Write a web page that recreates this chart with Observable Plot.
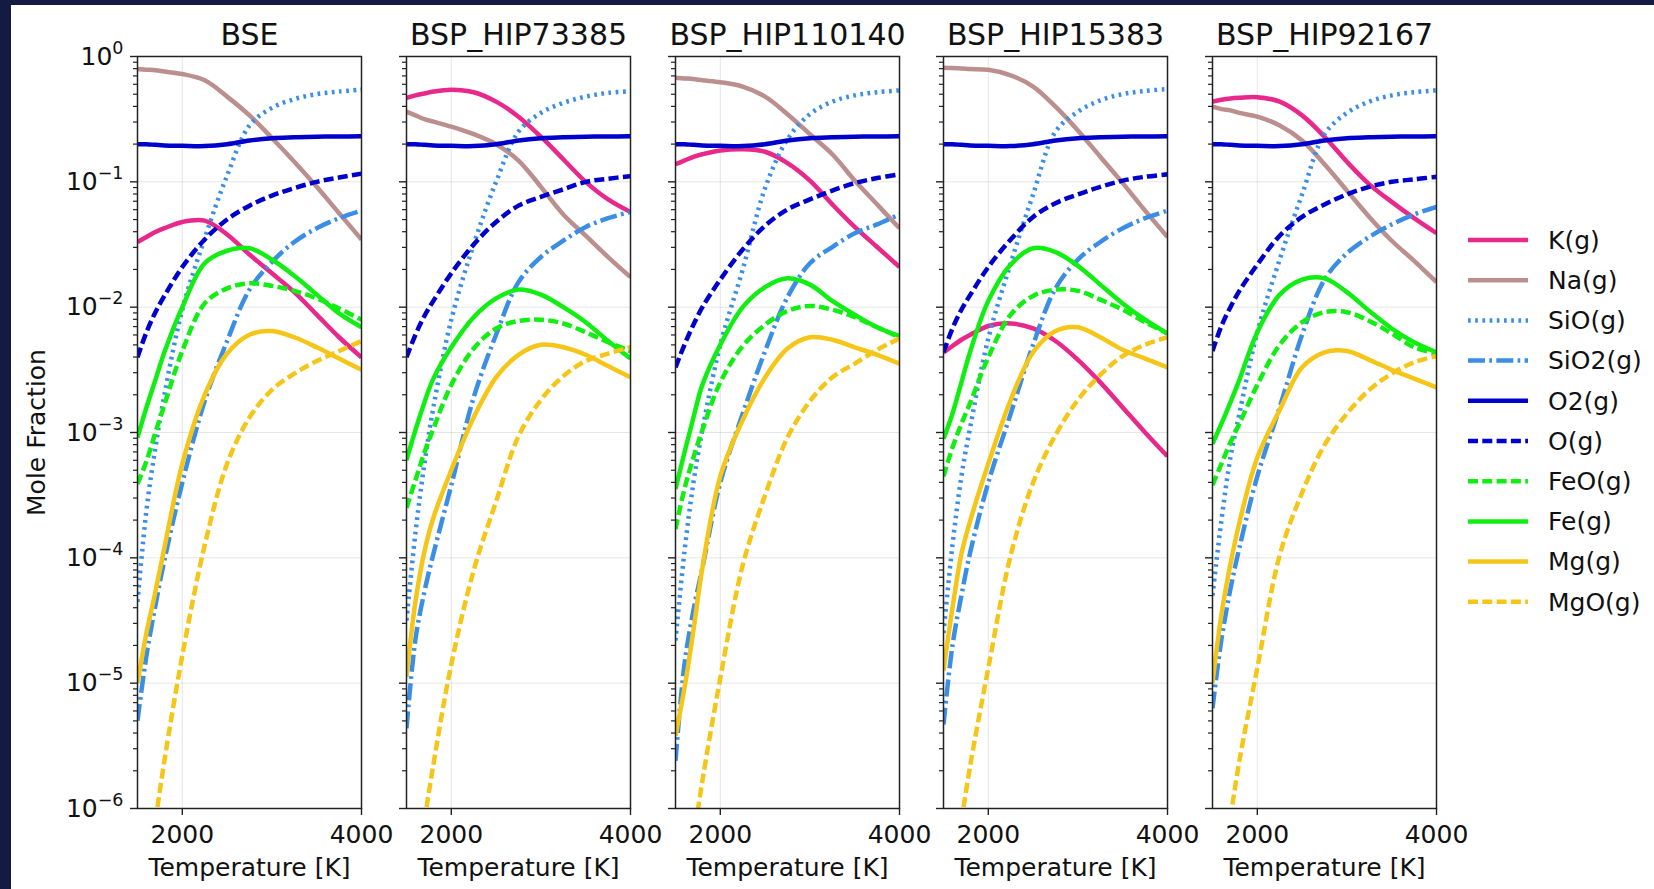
<!DOCTYPE html>
<html><head><meta charset="utf-8">
<script src="https://cdn.jsdelivr.net/npm/d3@7"></script>
<script src="https://cdn.jsdelivr.net/npm/@observablehq/plot@0.6"></script>
<style>
html,body{margin:0;padding:0;background:#141b43;width:1654px;height:889px;overflow:hidden;}
#page{position:absolute;left:11px;top:5px;width:1643px;height:884px;background:#fff;}
</style></head><body>
<div id="page"></div>
<div id="root"></div>
<script>
// ---- data (log10 of mole fraction) ----
const temperature = [1500,1600,1700,1800,2000,2250,2500,2750,3000,3250,3500,3750,4000];
const panels = ["BSE","BSP_HIP73385","BSP_HIP110140","BSP_HIP15383","BSP_HIP92167"];
const species = ["K(g)","Na(g)","SiO(g)","SiO2(g)","O2(g)","O(g)","FeO(g)","Fe(g)","Mg(g)","MgO(g)"];
const speciesColor = ["#e8288a","#bc8f8f","#3a8ee6","#3a8ee6","#0000cd","#0000cd","#11ee11","#11ee11","#f5c518","#f5c518"];
const speciesDash = ["solid","solid","dotted","dashdot","solid","dashed","dashed","solid","solid","dashed"];
const yTickExponents = [-6,-5,-4,-3,-2,-1,0];
const xTicks = [2000,4000];

const logK = [
 [-1.48,-1.44,-1.40,-1.37,-1.32,-1.31,-1.42,-1.58,-1.73,-1.88,-2.06,-2.24,-2.40],
 [-0.33,-0.31,-0.295,-0.28,-0.265,-0.285,-0.36,-0.48,-0.64,-0.82,-1.00,-1.14,-1.24],
 [-0.86,-0.83,-0.80,-0.78,-0.75,-0.74,-0.76,-0.85,-0.99,-1.18,-1.36,-1.52,-1.68],
 [-2.36,-2.31,-2.26,-2.22,-2.15,-2.13,-2.17,-2.27,-2.42,-2.60,-2.80,-3.00,-3.19],
 [-0.36,-0.345,-0.335,-0.33,-0.325,-0.36,-0.47,-0.64,-0.84,-1.02,-1.16,-1.29,-1.41]
];
const logNa = [
 [-0.10,-0.105,-0.11,-0.12,-0.14,-0.19,-0.32,-0.47,-0.65,-0.84,-1.04,-1.25,-1.46],
 [-0.44,-0.47,-0.50,-0.52,-0.56,-0.62,-0.70,-0.83,-1.04,-1.26,-1.43,-1.60,-1.76],
 [-0.17,-0.175,-0.18,-0.19,-0.205,-0.24,-0.32,-0.46,-0.62,-0.78,-0.99,-1.18,-1.37],
 [-0.09,-0.092,-0.095,-0.10,-0.106,-0.15,-0.24,-0.40,-0.59,-0.80,-1.01,-1.23,-1.44],
 [-0.40,-0.42,-0.43,-0.45,-0.48,-0.55,-0.67,-0.86,-1.07,-1.28,-1.47,-1.63,-1.80]
];
const logSiO = [
 [-4.35,-3.62,-3.12,-2.70,-2.02,-1.45,-0.95,-0.55,-0.41,-0.34,-0.30,-0.28,-0.265],
 [-4.50,-3.80,-3.25,-2.80,-2.10,-1.50,-1.00,-0.60,-0.45,-0.37,-0.32,-0.29,-0.277],
 [-4.66,-3.95,-3.40,-2.98,-2.30,-1.70,-1.05,-0.66,-0.46,-0.36,-0.31,-0.285,-0.27],
 [-4.60,-3.90,-3.35,-2.95,-2.25,-1.65,-1.10,-0.60,-0.44,-0.35,-0.30,-0.275,-0.26],
 [-4.30,-3.70,-3.20,-2.85,-2.20,-1.62,-1.10,-0.62,-0.45,-0.36,-0.31,-0.285,-0.27]
];
const logSiO2 = [
 [-5.30,-4.78,-4.38,-4.02,-3.40,-2.75,-2.27,-1.86,-1.64,-1.48,-1.37,-1.29,-1.23],
 [-5.36,-4.65,-4.27,-3.97,-3.42,-2.72,-2.22,-1.80,-1.60,-1.47,-1.36,-1.29,-1.24],
 [-5.62,-4.85,-4.42,-4.08,-3.40,-2.85,-2.35,-1.92,-1.65,-1.52,-1.41,-1.34,-1.26],
 [-5.33,-4.70,-4.30,-3.95,-3.40,-2.85,-2.30,-1.85,-1.62,-1.48,-1.37,-1.29,-1.23],
 [-5.20,-4.65,-4.25,-3.92,-3.35,-2.80,-2.22,-1.78,-1.57,-1.44,-1.34,-1.26,-1.20]
];
const logO2 = [
 [-0.70,-0.70,-0.705,-0.71,-0.713,-0.715,-0.70,-0.67,-0.652,-0.645,-0.64,-0.638,-0.637],
 [-0.70,-0.70,-0.705,-0.71,-0.713,-0.715,-0.70,-0.67,-0.652,-0.645,-0.64,-0.638,-0.637],
 [-0.70,-0.70,-0.705,-0.71,-0.713,-0.715,-0.70,-0.67,-0.652,-0.645,-0.64,-0.638,-0.637],
 [-0.70,-0.70,-0.705,-0.71,-0.713,-0.715,-0.70,-0.67,-0.652,-0.645,-0.64,-0.638,-0.637],
 [-0.70,-0.70,-0.705,-0.71,-0.713,-0.715,-0.70,-0.67,-0.652,-0.645,-0.64,-0.638,-0.637]
];
const logO = [
 [-2.40,-2.20,-2.04,-1.91,-1.68,-1.46,-1.30,-1.19,-1.11,-1.05,-1.00,-0.965,-0.935],
 [-2.40,-2.22,-2.07,-1.95,-1.73,-1.50,-1.32,-1.19,-1.12,-1.06,-1.00,-0.975,-0.955],
 [-2.48,-2.30,-2.14,-2.00,-1.78,-1.54,-1.35,-1.22,-1.14,-1.07,-1.01,-0.97,-0.94],
 [-2.36,-2.17,-2.02,-1.90,-1.68,-1.46,-1.28,-1.17,-1.10,-1.04,-0.99,-0.96,-0.94],
 [-2.35,-2.15,-2.00,-1.87,-1.66,-1.43,-1.28,-1.18,-1.10,-1.04,-1.00,-0.98,-0.96]
];
const logFeO = [
 [-3.41,-3.23,-3.00,-2.78,-2.35,-1.97,-1.85,-1.81,-1.83,-1.87,-1.93,-2.01,-2.10],
 [-3.60,-3.38,-3.16,-2.97,-2.62,-2.33,-2.17,-2.11,-2.10,-2.13,-2.20,-2.28,-2.35],
 [-3.77,-3.45,-3.20,-2.98,-2.60,-2.31,-2.14,-2.03,-1.99,-2.02,-2.08,-2.16,-2.24],
 [-3.35,-3.12,-2.93,-2.76,-2.40,-2.06,-1.91,-1.86,-1.87,-1.94,-2.02,-2.12,-2.21],
 [-3.42,-3.25,-3.08,-2.93,-2.62,-2.30,-2.12,-2.04,-2.04,-2.11,-2.21,-2.32,-2.37]
];
const logFe = [
 [-3.04,-2.80,-2.58,-2.36,-2.00,-1.65,-1.55,-1.53,-1.62,-1.75,-1.90,-2.05,-2.16],
 [-3.22,-2.98,-2.76,-2.57,-2.32,-2.08,-1.93,-1.86,-1.90,-2.00,-2.12,-2.27,-2.41],
 [-3.45,-3.16,-2.88,-2.62,-2.30,-2.00,-1.84,-1.77,-1.82,-1.95,-2.06,-2.16,-2.23],
 [-3.05,-2.85,-2.60,-2.35,-1.95,-1.66,-1.53,-1.56,-1.67,-1.82,-1.97,-2.10,-2.21],
 [-3.09,-2.93,-2.76,-2.58,-2.20,-1.90,-1.78,-1.77,-1.88,-2.03,-2.17,-2.28,-2.36]
];
const logMg = [
 [-5.00,-4.60,-4.27,-3.92,-3.25,-2.70,-2.37,-2.22,-2.19,-2.24,-2.32,-2.41,-2.50],
 [-4.95,-4.35,-3.95,-3.68,-3.30,-2.88,-2.56,-2.38,-2.30,-2.32,-2.38,-2.47,-2.56],
 [-5.42,-5.04,-4.58,-4.08,-3.35,-2.90,-2.56,-2.33,-2.24,-2.26,-2.32,-2.38,-2.45],
 [-4.90,-4.40,-3.97,-3.70,-3.25,-2.74,-2.36,-2.19,-2.16,-2.24,-2.34,-2.41,-2.48],
 [-5.00,-4.45,-4.05,-3.72,-3.20,-2.82,-2.48,-2.36,-2.35,-2.42,-2.50,-2.57,-2.64]
];
const logMgO = [
 [null,null,-6.10,-5.62,-4.78,-3.90,-3.25,-2.88,-2.66,-2.53,-2.43,-2.35,-2.27],
 [null,null,-6.10,-5.65,-4.85,-4.10,-3.55,-3.03,-2.74,-2.55,-2.43,-2.37,-2.32],
 [null,null,-6.25,-5.78,-4.96,-4.06,-3.50,-3.04,-2.75,-2.56,-2.45,-2.34,-2.25],
 [null,null,-6.10,-5.65,-4.88,-3.98,-3.40,-3.02,-2.74,-2.54,-2.39,-2.30,-2.24],
 [null,null,-6.08,-5.62,-4.88,-3.98,-3.48,-3.10,-2.85,-2.66,-2.53,-2.44,-2.39]
];
const seriesLog = [logK, logNa, logSiO, logSiO2, logO2, logO, logFeO, logFe, logMg, logMgO];

// ---- styling / layout ----
const FONT = "DejaVu Sans";
const LW = 4.5;
const dashArrays = {solid: null, dashed: "10,4.3", dotted: "2.7,4.5", dashdot: "17,4.3,2.7,4.3"};
const fmtPow = d => "10^" + Math.round(Math.log10(d));

const frameW = 224, step = 268.75, firstLeft = 137;
const majors = yTickExponents.map(e => 10 ** e);
const minors = [];
for (let e = -6; e < 0; e++) for (let m = 2; m < 10; m++) minors.push(m * 10 ** e);

const root = document.getElementById("root");
const SVGNS = "http://www.w3.org/2000/svg";

panels.forEach((name, i) => {
  const first = i === 0;
  const ml = first ? firstLeft : 40, mr = 30;
  const rows = [];
  seriesLog.forEach((arr, si) => arr[i].forEach((v, ti) => {
    if (v != null) rows.push({species: species[si], T: temperature[ti], frac: 10 ** v});
  }));
  const lineMarks = species.map((s, si) => Plot.line(rows.filter(r => r.species === s), {
    x: "T", y: "frac", stroke: speciesColor[si], strokeWidth: LW,
    strokeDasharray: dashArrays[speciesDash[si]], strokeLinecap: "butt", strokeLinejoin: "round",
    curve: "catmull-rom", clip: true
  }));
  const marks = [
    Plot.gridY(majors, {stroke: "#000", strokeOpacity: 0.1, strokeWidth: 1}),
    Plot.gridX(xTicks, {stroke: "#000", strokeOpacity: 0.1, strokeWidth: 1}),
    ...lineMarks,
    Plot.axisY(minors, {tickSize: 4, strokeWidth: 1.2, text: null, label: null, stroke: "#222"}),
    Plot.axisY(majors, {tickSize: 7, tickPadding: 7, strokeWidth: 1.4, stroke: "#222",
      tickFormat: fmtPow, text: first ? undefined : null, label: null, fontSize: 25}),
    Plot.axisX(xTicks, {tickSize: 7, tickPadding: 10, strokeWidth: 1.4, stroke: "#222",
      tickFormat: d => String(d), label: null, fontSize: 25}),
    Plot.frame({stroke: "#222", strokeWidth: 1.5}),
    Plot.text([name], {text: d => d, frameAnchor: "top", dy: -21, fontSize: 30, lineAnchor: "middle", fill: "#111"}),
    Plot.text(["Temperature [K]"], {text: d => d, frameAnchor: "bottom", dy: 59, fontSize: 25, lineAnchor: "middle", fill: "#111"})
  ];
  if (first) marks.push(Plot.text(["Mole Fraction"], {text: d => d, frameAnchor: "left", dx: -101, rotate: -90,
    textAnchor: "middle", lineAnchor: "middle", fontSize: 25, fill: "#111"}));
  const chart = Plot.plot({
    width: ml + frameW + mr, height: 889,
    marginLeft: ml, marginRight: mr, marginTop: 56, marginBottom: 81,
    style: {background: "transparent", overflow: "visible", fontFamily: FONT, fontSize: "25px", color: "#111"},
    x: {domain: [1500, 4000]},
    y: {type: "log", domain: [1e-6, 1]},
    marks
  });
  // turn "10^-1" tick labels into 10 with a superscript exponent (matplotlib style)
  chart.querySelectorAll("text").forEach(t => {
    const s = t.textContent;
    if (/^10\^-?\d+$/.test(s)) {
      const exp = s.slice(3).replace("-", "\u2212");
      t.textContent = "10";
      const ts = document.createElementNS(SVGNS, "tspan");
      ts.setAttribute("font-size", "0.7em");
      ts.setAttribute("dy", "-0.62em");
      ts.textContent = exp;
      t.appendChild(ts);
    }
  });
  chart.style.position = "absolute";
  chart.style.left = (firstLeft + i * step - ml) + "px";
  chart.style.top = "0px";
  root.appendChild(chart);
});

// ---- legend ----
const legendTop = 240, legendStep = 40.2;
const lg = d3.select("body").append("svg")
  .attr("width", 1654).attr("height", 889)
  .style("position", "absolute").style("left", "0px").style("top", "0px").style("pointer-events", "none");
species.forEach((s, si) => {
  const y = legendTop + si * legendStep;
  lg.append("line").attr("x1", 1468).attr("x2", 1528).attr("y1", y).attr("y2", y)
    .attr("stroke", speciesColor[si]).attr("stroke-width", LW)
    .attr("stroke-dasharray", dashArrays[speciesDash[si]]).attr("stroke-linecap", "butt");
  lg.append("text").attr("x", 1548).attr("y", y).attr("dy", "0.35em")
    .attr("font-family", FONT).attr("font-size", 25).attr("fill", "#111").text(s);
});
</script>
</body></html>
